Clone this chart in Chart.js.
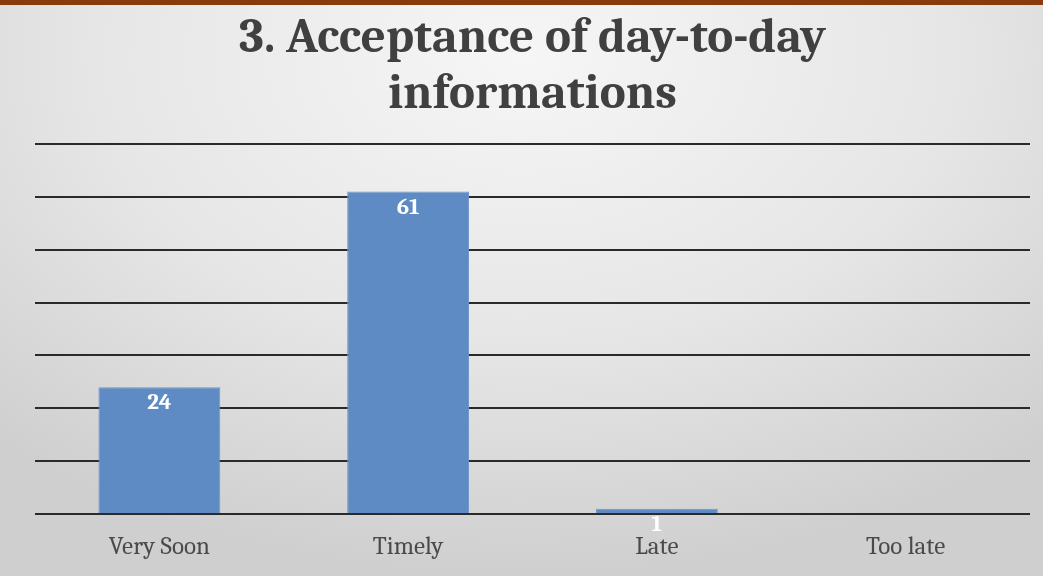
<!DOCTYPE html>
<html>
<head>
<meta charset="utf-8">
<script src="https://cdn.jsdelivr.net/npm/chart.js@4.4.1/dist/chart.umd.min.js"></script>
<style>
  html, body { margin:0; padding:0; }
  body {
    width:1043px; height:576px; overflow:hidden;
    background: radial-gradient(ellipse 75% 90% at 50% 10%, #f6f6f6 0%, #e6e6e6 55%, #cfcfcf 100%);
  }
  #topbar { position:absolute; left:0; top:0; width:1043px; height:5px; background:#8a3b0c; }
  #wrap { position:absolute; left:0; top:0; width:1043px; height:576px; }
</style>
</head>
<body>
<div id="topbar"></div>
<div id="wrap"><canvas id="c" width="1043" height="576"></canvas></div>
<script>
(() => {
  'use strict';

  // datos
  const categories = ["Very Soon", "Timely", "Late", "Too late"];
  const values     = [24, 61, 1, 0];
  const yTicks     = [0, 10, 20, 30, 40, 50, 60, 70];
  const titleLines = ["3. Acceptance of day-to-day", "informations"];

  const SERIF = "Cambria, 'Liberation Serif', 'DejaVu Serif', serif";

  // etiquetas de valor dentro de la barra, arriba
  const valueLabels = {
    id: 'valueLabels',
    afterDatasetsDraw(chart){
      const {ctx} = chart;
      const meta = chart.getDatasetMeta(0);
      ctx.save();
      ctx.font = "bold 23px " + SERIF;
      ctx.fillStyle = "#ffffff";
      ctx.textAlign = "center";
      ctx.textBaseline = "top";
      meta.data.forEach((bar, i)=>{
        const v = values[i];
        if(!v) return;
        ctx.fillText(String(v), bar.x, bar.y + 4);
      });
      ctx.restore();
    }
  };

  new Chart(document.getElementById('c').getContext('2d'), {
    type: 'bar',
    data: {
      labels: categories,
      datasets: [{
        data: values,
        backgroundColor: "#5f8bc4",
        borderColor: "#6e97cc",
        borderWidth: 1,
        categoryPercentage: 1,
        barPercentage: 0.49
      }]
    },
    options: {
      responsive: false,
      animation: false,
      devicePixelRatio: 1,
      layout: { padding: { left: 35, right: 13, top: 10, bottom: 4 } },
      plugins: {
        legend: { display: false },
        tooltip: { enabled: false },
        title: {
          display: true,
          text: titleLines,
          color: "#404040",
          font: { family: SERIF, size: 49, weight: 'bold', lineHeight: 56/49 },
          padding: { top: 0, bottom: 22 }
        }
      },
      scales: {
        x: {
          grid: { display: false },
          border: { display: false },
          ticks: { color: "#4a4a4a", font: { family: SERIF, size: 25 }, padding: 10 }
        },
        y: {
          min: 0, max: 70,
          afterBuildTicks: (axis)=>{ axis.ticks = yTicks.map(v=>({value:v})); },
          ticks: { display: false },
          border: { display: false },
          grid: { color: "#2a2a2a", lineWidth: 2, drawTicks: false }
        }
      }
    },
    plugins: [valueLabels]
  });
})();
</script>
</body>
</html>
